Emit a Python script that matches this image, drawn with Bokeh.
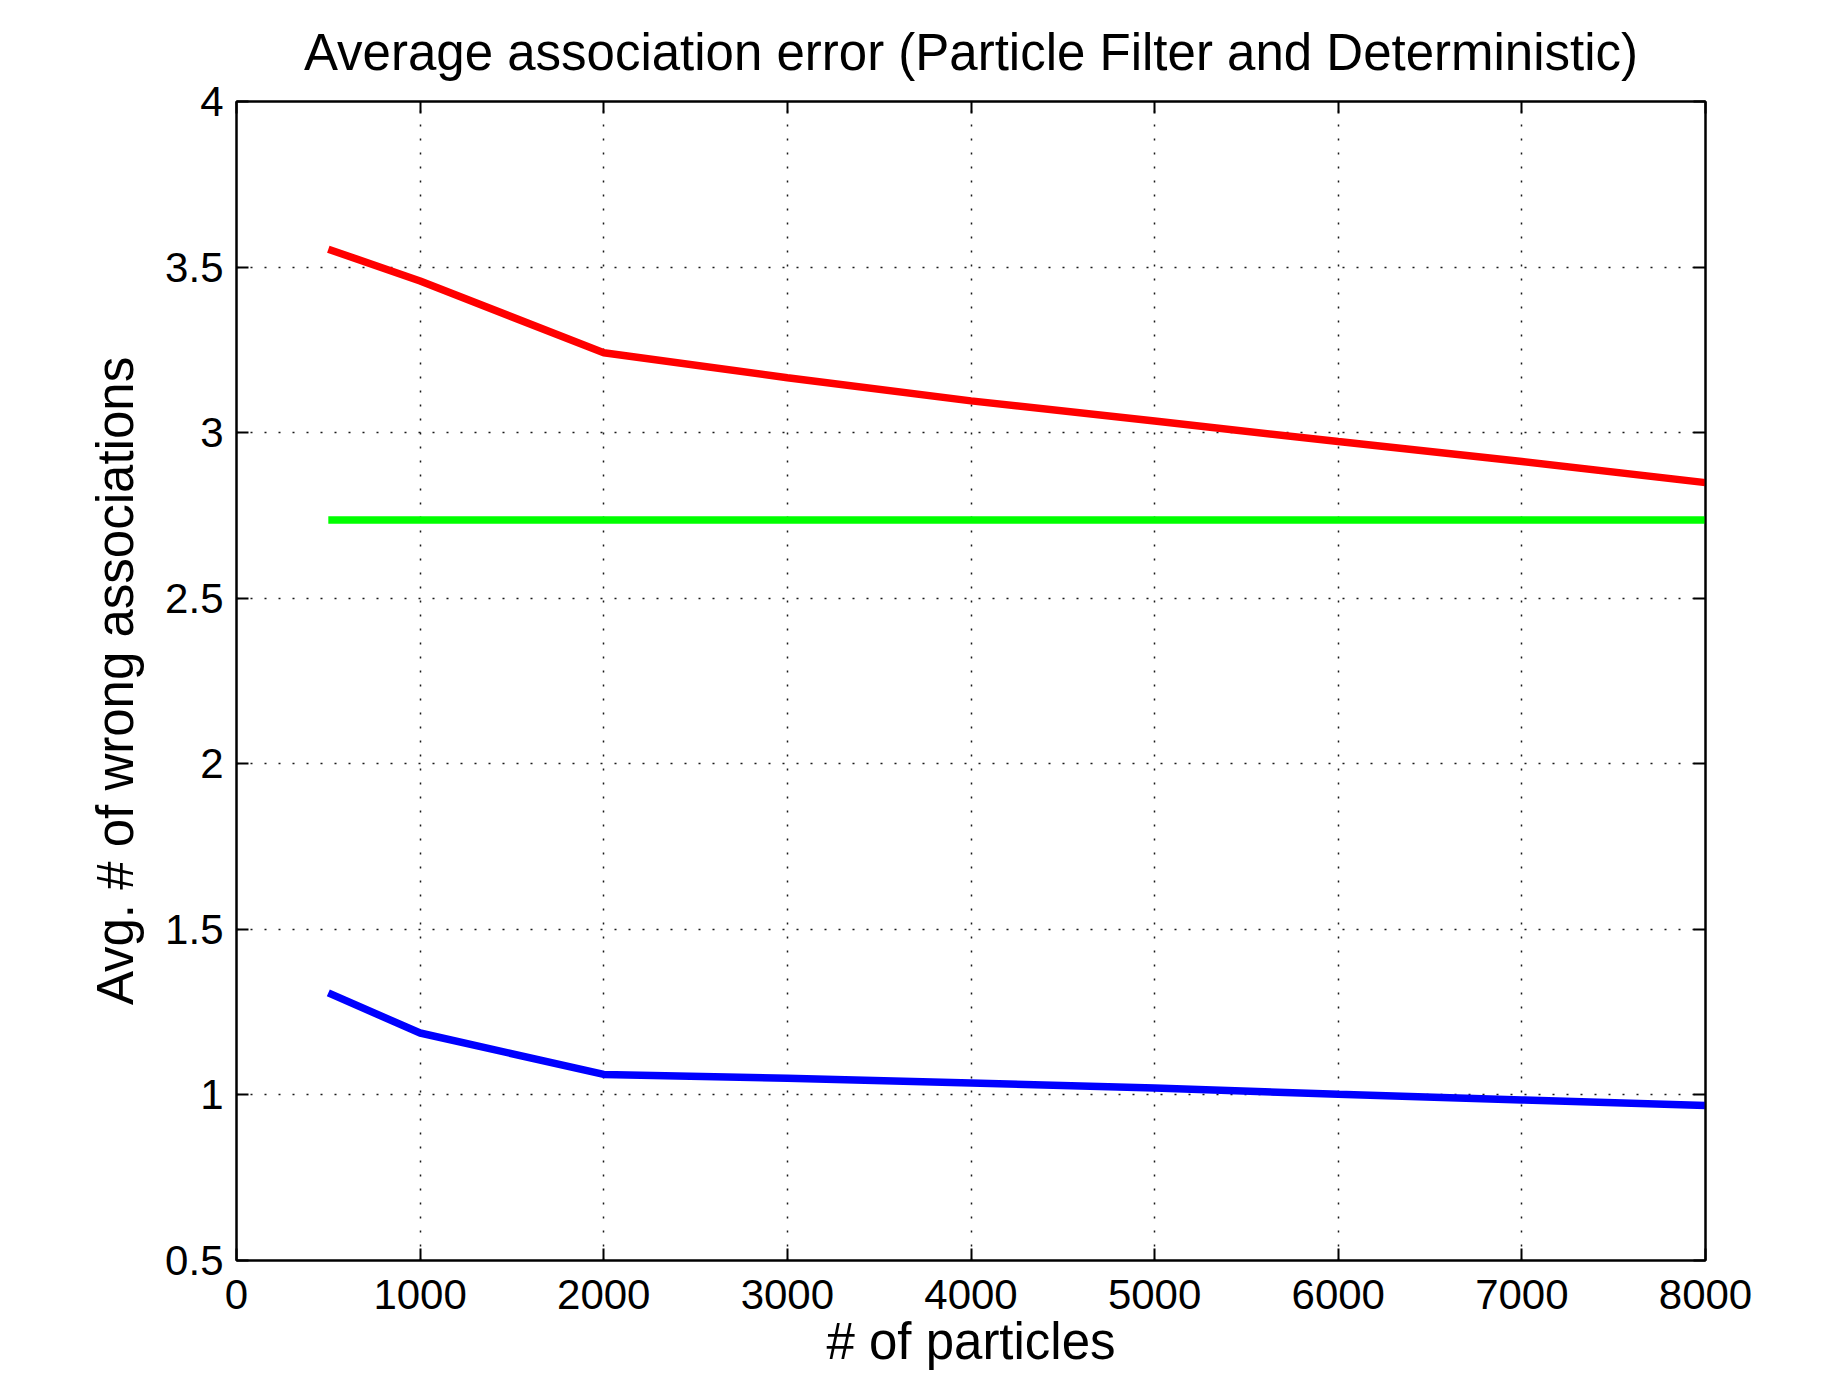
from bokeh.plotting import figure
from bokeh.models import LinearAxis, FixedTicker, CustomJSTickFormatter, Range1d
from bokeh.embed import file_html
from bokeh.resources import INLINE

particles = [500, 1000, 2000, 3000, 4000, 5000, 6000, 7000, 8000]
particle_filter_red = [3.554, 3.458, 3.241, 3.166, 3.096, 3.035, 2.973, 2.913, 2.849]
deterministic_green = [2.736, 2.736, 2.736, 2.736, 2.736, 2.736, 2.736, 2.736, 2.736]
particle_filter_blue = [1.308, 1.187, 1.062, 1.050, 1.036, 1.021, 1.002, 0.985, 0.968]

x_ticks = [0, 1000, 2000, 3000, 4000, 5000, 6000, 7000, 8000]
y_ticks = [0.5, 1, 1.5, 2, 2.5, 3, 3.5, 4]

FONT = "Liberation Sans"

p = figure(width=1827, height=1373, output_backend="svg", toolbar_location=None,
           x_range=Range1d(0, 8000), y_range=Range1d(0.5, 4),
           title="Average association error (Particle Filter and Deterministic)",
           min_border_left=236, min_border_right=122, min_border_top=101, min_border_bottom=113)

p.title.text_font = FONT
p.title.text_font_size = "51px"
p.title.text_font_style = "normal"
p.title.align = "center"
p.title.text_color = "black"
p.title.standoff = 42

fmt = CustomJSTickFormatter(code="return tick.toString();")

for ax in p.xaxis:
    ax.ticker = FixedTicker(ticks=x_ticks)
    ax.formatter = fmt
    ax.axis_label = "# of particles"
for ax in p.yaxis:
    ax.ticker = FixedTicker(ticks=y_ticks)
    ax.formatter = fmt
    ax.axis_label = "Avg. # of wrong associations"

for ax in p.xaxis + p.yaxis:
    ax.axis_label_text_font = FONT
    ax.axis_label_text_font_size = "51px"
    ax.axis_label_text_font_style = "normal"
    ax.axis_label_text_color = "black"
    ax.major_label_text_font = FONT
    ax.major_label_text_font_size = "42px"
    ax.major_label_text_color = "black"
    ax.axis_line_color = "black"
    ax.axis_line_width = 2
    ax.major_tick_in = 12
    ax.major_tick_out = 0
    ax.major_tick_line_color = "black"
    ax.major_tick_line_width = 2
    ax.minor_tick_line_color = None

for ax in p.xaxis:
    ax.major_label_standoff = 19
    ax.axis_label_standoff = 1
for ax in p.yaxis:
    ax.major_label_standoff = 13
    ax.axis_label_standoff = 18

right = LinearAxis(ticker=FixedTicker(ticks=y_ticks), major_label_text_font_size="0px",
                   major_tick_in=12, major_tick_out=0, major_tick_line_width=2,
                   axis_line_width=2, minor_tick_line_color=None, major_label_standoff=0)
top = LinearAxis(ticker=FixedTicker(ticks=x_ticks), major_label_text_font_size="0px",
                 major_tick_in=12, major_tick_out=0, major_tick_line_width=2,
                 axis_line_width=2, minor_tick_line_color=None, major_label_standoff=0)
right.major_label_text_color = None
top.major_label_text_color = None
p.add_layout(right, "right")
p.add_layout(top, "above")

p.outline_line_color = "black"
p.outline_line_width = 2

for g in (p.xgrid[0], p.ygrid[0]):
    g.grid_line_color = "black"
    g.grid_line_width = 1.5
    g.grid_line_dash = "2 12"
    g.grid_line_alpha = 0.9
p.xgrid[0].ticker = FixedTicker(ticks=x_ticks)
p.ygrid[0].ticker = FixedTicker(ticks=y_ticks)

p.line(particles, particle_filter_red, line_color="#ff0000", line_width=7.5)
p.line(particles, deterministic_green, line_color="#00ff00", line_width=7.5)
p.line(particles, particle_filter_blue, line_color="#0000ff", line_width=7.5)

p.background_fill_color = "white"
p.border_fill_color = "white"

open("out.html", "w").write(file_html(p, INLINE))
